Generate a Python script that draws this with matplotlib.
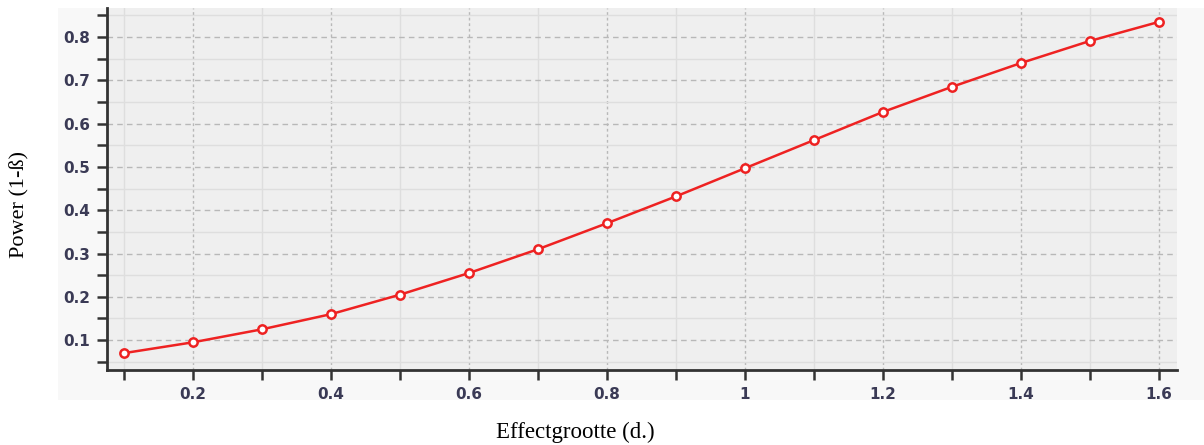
import numpy as np
import matplotlib
matplotlib.use('Agg')
import matplotlib.pyplot as plt
from matplotlib.patches import Rectangle
from matplotlib.ticker import MultipleLocator, FuncFormatter

effect = [0.1, 0.2, 0.3, 0.4, 0.5, 0.6, 0.7, 0.8, 0.9, 1.0, 1.1, 1.2, 1.3, 1.4, 1.5, 1.6]
power = [0.070, 0.095, 0.125, 0.160, 0.205, 0.255, 0.310, 0.370, 0.432, 0.497,
         0.562, 0.627, 0.685, 0.740, 0.791, 0.835]

fig = plt.figure(figsize=(12.04, 4.45), dpi=100)
fig.patch.set_facecolor('white')
# light panel behind the plot
fig.patches.append(Rectangle((58/1204, 1-400/445), 1-58/1204, 392/445,
                             transform=fig.transFigure, facecolor='#f8f8f8',
                             edgecolor='none', zorder=-10))

ax = fig.add_axes([107/1204, 1-370/445, 1070/1204, 362/445])
ax.set_facecolor('#efefef')

ax.plot(effect, power, color='#ee2222', lw=1.8, marker='o', ms=6,
        mfc='white', mec='#ee2222', mew=1.8, zorder=5)

ax.set_xlim(0.0753, 1.626)
ax.set_ylim(0.031, 0.867)

ax.xaxis.set_major_locator(MultipleLocator(0.2))
ax.xaxis.set_minor_locator(MultipleLocator(0.1))
ax.yaxis.set_major_locator(MultipleLocator(0.1))
ax.yaxis.set_minor_locator(MultipleLocator(0.05))
fmt = FuncFormatter(lambda v, p: '%g' % round(v, 2))
ax.xaxis.set_major_formatter(fmt)
ax.yaxis.set_major_formatter(fmt)

ax.grid(which='major', axis='y', color='#b8b8b8', ls=(0, (4, 3)), lw=1)
ax.grid(which='major', axis='x', color='#b8b8b8', ls=(0, (2, 2)), lw=1)
ax.grid(which='minor', color='#dedede', ls='-', lw=1)
ax.set_axisbelow(True)

for s in ['top', 'right']:
    ax.spines[s].set_visible(False)
for s in ['left', 'bottom']:
    ax.spines[s].set_linewidth(2)
    ax.spines[s].set_color('#333333')

ax.tick_params(which='both', direction='out', length=7, width=1.8, color='#333333')
ax.tick_params(axis='both', which='major', labelsize=11, labelcolor='#3a3a55', pad=5)
for lab in ax.get_xticklabels() + ax.get_yticklabels():
    lab.set_fontweight('bold')

fig.text(575/1204, 1-432/445, 'Effectgrootte (d.)', ha='center', va='center',
         family='Liberation Serif', fontsize=16.5)
fig.text(20/1204, 1-205/445, 'Power (1-ß)', ha='center', va='center',
         rotation=90, family='Liberation Serif', fontsize=16)

fig.savefig('out.png', dpi=100, facecolor=fig.get_facecolor())
